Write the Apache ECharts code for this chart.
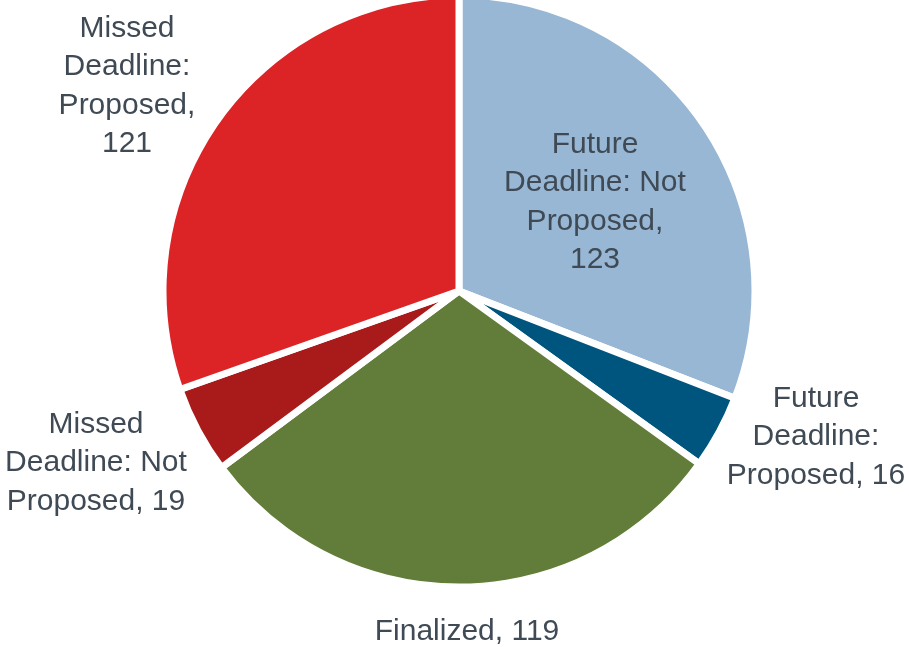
<!DOCTYPE html>
<html>
<head>
<meta charset="utf-8">
<script src="https://cdn.jsdelivr.net/npm/echarts@6/dist/echarts.min.js"></script>
<style>
html,body{margin:0;padding:0;background:#fff;}
#chart{width:909px;height:647px;}
</style>
</head>
<body>
<div id="chart"></div>
<script>
const categories = [
  'Future\nDeadline: Not\nProposed',
  'Future\nDeadline:\nProposed',
  'Finalized',
  'Missed\nDeadline: Not\nProposed',
  'Missed\nDeadline:\nProposed'
];
const values = [123, 16, 119, 19, 121];
const colors = ['#97B7D4', '#00557F', '#627D39', '#A91B1B', '#DC2426'];
// label text separators and anchor points (label layout only)
const valueSeparators = [',\n', ', ', ', ', ', ', ',\n'];
const labelPositions = [[595, 202], [816, 437], [467, 632], [96, 463], [127, 86]];

const chart = echarts.init(document.getElementById('chart'));
chart.setOption({
  animation: false,
  series: [{
    type: 'pie',
    center: [459, 291],
    radius: 296,
    startAngle: 90,
    clockwise: true,
    data: categories.map((c, i) => ({
      name: c,
      value: values[i],
      itemStyle: { color: colors[i] }
    })),
    itemStyle: { borderColor: '#ffffff', borderWidth: 7 },
    label: {
      show: true,
      position: 'outside',
      formatter: p => p.name + valueSeparators[p.dataIndex] + p.value,
      fontFamily: 'Liberation Sans',
      fontSize: 30,
      lineHeight: 38.5,
      color: '#3F4A55',
      align: 'center',
      overflow: 'none',
      width: 400
    },
    labelLine: { show: false },
    labelLayout: params => {
      const p = labelPositions[params.dataIndex];
      return { x: p[0], y: p[1], align: 'center', verticalAlign: 'middle' };
    }
  }]
});
</script>
</body>
</html>
